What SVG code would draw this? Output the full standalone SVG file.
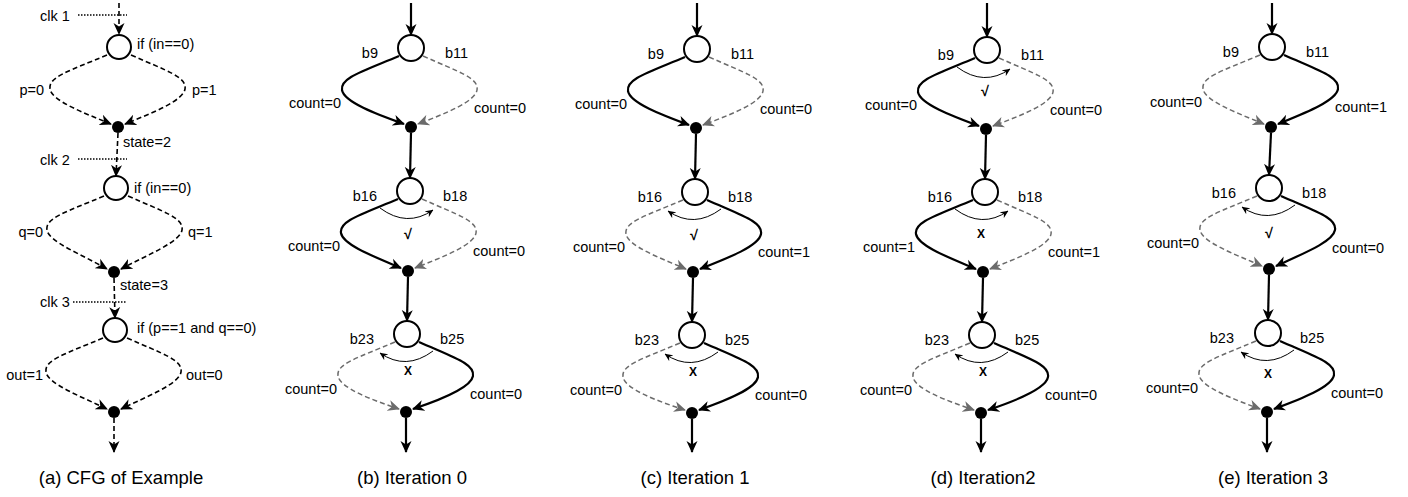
<svg xmlns="http://www.w3.org/2000/svg" width="1408" height="497" viewBox="0 0 1408 497">
<style>
.c{fill:#fff;stroke:#000;stroke-width:2}
.d{fill:#000}
text{font-family:"Liberation Sans",Arial,sans-serif;font-size:14.5px;fill:#000}
.cap{font-size:18.5px;text-anchor:middle}
.r{text-anchor:end}
.m{text-anchor:middle;font-weight:bold}
.e{fill:none;stroke:#000;stroke-width:2.2;marker-end:url(#ab)}
.g{fill:none;stroke:#6b6b6b;stroke-width:1.5;stroke-dasharray:5 3;marker-end:url(#ag)}
.a{fill:none;stroke:#000;stroke-width:1.6;stroke-dasharray:5 3;marker-end:url(#ab)}
.s{fill:none;stroke:#000;stroke-width:1;marker-end:url(#as)}
.k{fill:none;stroke:#000;stroke-width:1.3;stroke-dasharray:1.5 1.5}
</style>
<defs>
<marker id="ab" viewBox="0 0 12 12" refX="11" refY="6" markerWidth="12" markerHeight="12" markerUnits="userSpaceOnUse" orient="auto"><path d="M0,0.5 L12,6 L0,11.5 L3.5,6 Z" fill="#000"/></marker>
<marker id="ag" viewBox="0 0 12 12" refX="11" refY="6" markerWidth="12" markerHeight="12" markerUnits="userSpaceOnUse" orient="auto"><path d="M0,0.5 L12,6 L0,11.5 L3.5,6 Z" fill="#6b6b6b"/></marker>
<marker id="as" viewBox="0 0 8 8" refX="7.5" refY="4" markerWidth="8" markerHeight="8" markerUnits="userSpaceOnUse" orient="auto"><path d="M0,0.5 L8,4 L0,7.5 L2.5,4 Z" fill="#000"/></marker>
</defs>

<g id="connectors">
<!-- panel a -->
<path class="k" d="M78 15 H127 M78 159 H127 M73 302 H127"/>
<path class="a" d="M119 3 L119 34"/>
<path class="a" d="M118 133 L116 176"/>
<path class="a" d="M114 278 L115 318"/>
<path class="a" d="M114 418 L114 452"/>
<path class="a" d="M107 55 C69 71 48 77 50 89 C52 101 84 113 111 124"/>
<path class="a" d="M131 55 C167 71 187 77 185 89 C183 101 152 113 125 124"/>
<path class="a" d="M104 196 C66 212 45 218 47 230 C49 242 81 254 107 269"/>
<path class="a" d="M128 196 C164 212 184 218 182 230 C180 242 149 254 121 269"/>
<path class="a" d="M103 338 C65 354 44 360 46 372 C48 384 80 396 107 409"/>
<path class="a" d="M127 338 C163 354 183 360 181 372 C179 384 148 396 121 409"/>
<!-- panel b -->
<path class="e" d="M411 3 L411 35"/>
<path class="e" d="M411 133 L410 178"/>
<path class="e" d="M408 277 L407 321"/>
<path class="e" d="M406 418 L406 452"/>
<path class="e" d="M399 56 C361 72 340 78 342 90 C344 102 376 114 404 124"/>
<path class="g" d="M423 56 C459 72 479 78 477 90 C475 102 444 114 418 124"/>
<path class="e" d="M398 199 C360 215 339 221 341 233 C343 245 375 257 401 268"/>
<path class="g" d="M422 199 C458 215 478 221 476 233 C474 245 443 257 415 268"/>
<path class="g" d="M395 342 C357 358 336 364 338 376 C340 388 372 400 399 409"/>
<path class="e" d="M419 342 C455 358 475 364 473 376 C471 388 440 400 413 409"/>
<path class="s" d="M380 208 Q407 228 433 210"/>
<path class="s" d="M433 351 Q406 371 380 353"/>
<!-- panel c -->
<path class="e" d="M697 3 L697 36"/>
<path class="e" d="M696 134 L695 179"/>
<path class="e" d="M693 278 L692 322"/>
<path class="e" d="M692 419 L692 452"/>
<path class="e" d="M685 57 C647 73 626 79 628 91 C630 103 662 115 689 125"/>
<path class="g" d="M709 57 C745 73 765 79 763 91 C761 103 730 115 703 125"/>
<path class="g" d="M683 200 C645 216 624 222 626 234 C628 246 660 258 686 269"/>
<path class="e" d="M707 200 C743 216 763 222 761 234 C759 246 728 258 700 269"/>
<path class="g" d="M680 343 C642 359 621 365 623 377 C625 389 657 401 685 410"/>
<path class="e" d="M704 343 C740 359 760 365 758 377 C756 389 725 401 699 410"/>
<path class="s" d="M721 209 Q694 229 668 211"/>
<path class="s" d="M718 352 Q691 372 665 354"/>
<!-- panel d -->
<path class="e" d="M987 3 L987 37"/>
<path class="e" d="M986 135 L985 179"/>
<path class="e" d="M983 278 L982 322"/>
<path class="e" d="M981 419 L981 452"/>
<path class="e" d="M975 58 C937 74 916 80 918 92 C920 104 952 116 979 126"/>
<path class="g" d="M999 58 C1035 74 1055 80 1053 92 C1051 104 1020 116 993 126"/>
<path class="e" d="M973 200 C935 216 914 222 916 234 C918 246 950 258 976 269"/>
<path class="g" d="M997 200 C1033 216 1053 222 1051 234 C1049 246 1018 258 990 269"/>
<path class="g" d="M970 343 C932 359 911 365 913 377 C915 389 947 401 974 410"/>
<path class="e" d="M994 343 C1030 359 1050 365 1048 377 C1046 389 1015 401 988 410"/>
<path class="s" d="M957 67 Q984 87 1010 69"/>
<path class="s" d="M955 209 Q982 229 1008 211"/>
<path class="s" d="M1008 352 Q981 372 955 354"/>
<!-- panel e -->
<path class="e" d="M1272 3 L1272 34"/>
<path class="e" d="M1271 133 L1269 175"/>
<path class="e" d="M1269 275 L1268 320"/>
<path class="e" d="M1267 418 L1267 452"/>
<path class="g" d="M1260 55 C1222 71 1201 77 1203 89 C1205 101 1237 113 1264 124"/>
<path class="e" d="M1284 55 C1320 71 1340 77 1338 89 C1336 101 1305 113 1278 124"/>
<path class="g" d="M1257 196 C1219 212 1198 218 1200 230 C1202 242 1234 254 1262 266"/>
<path class="e" d="M1281 196 C1317 212 1337 218 1335 230 C1333 242 1302 254 1276 266"/>
<path class="g" d="M1256 341 C1218 357 1197 363 1199 375 C1201 387 1233 399 1260 409"/>
<path class="e" d="M1280 341 C1316 357 1336 363 1334 375 C1332 387 1301 399 1274 409"/>
<path class="s" d="M1295 205 Q1268 225 1242 207"/>
<path class="s" d="M1294 350 Q1267 370 1241 352"/>
</g>

<g id="edge-labels">
<text x="40" y="21">clk 1</text>
<text x="40" y="165">clk 2</text>
<text x="40" y="307">clk 3</text>
<text class="r" x="44" y="95">p=0</text>
<text x="192" y="95">p=1</text>
<text class="r" x="43" y="237">q=0</text>
<text x="188" y="237">q=1</text>
<text class="r" x="43" y="380">out=1</text>
<text x="186" y="380">out=0</text>
<text x="123" y="147">state=2</text>
<text x="120" y="290">state=3</text>

<text class="r" x="341" y="108">count=0</text><text x="474" y="113">count=0</text>
<text class="r" x="340" y="251">count=0</text><text x="473" y="256">count=0</text>
<text class="r" x="337" y="394">count=0</text><text x="470" y="399">count=0</text>
<text class="m" x="408" y="239" font-size="15">√</text>
<text class="m" x="408" y="375" style="font-size:12px">X</text>

<text class="r" x="627" y="109">count=0</text><text x="760" y="114">count=0</text>
<text class="r" x="625" y="252">count=0</text><text x="758" y="257">count=1</text>
<text class="r" x="622" y="395">count=0</text><text x="755" y="400">count=0</text>
<text class="m" x="694" y="240">√</text>
<text class="m" x="693" y="376" style="font-size:12px">X</text>

<text class="r" x="917" y="110">count=0</text><text x="1050" y="115">count=0</text>
<text class="r" x="915" y="252">count=1</text><text x="1048" y="257">count=1</text>
<text class="r" x="912" y="395">count=0</text><text x="1045" y="400">count=0</text>
<text class="m" x="985" y="96">√</text>
<text class="m" x="981" y="238" style="font-size:12px">X</text>
<text class="m" x="983" y="376" style="font-size:12px">X</text>

<text class="r" x="1202" y="107">count=0</text><text x="1335" y="112">count=1</text>
<text class="r" x="1199" y="248">count=0</text><text x="1332" y="253">count=0</text>
<text class="r" x="1198" y="393">count=0</text><text x="1331" y="398">count=0</text>
<text class="m" x="1269" y="238">√</text>
<text class="m" x="1268" y="378" style="font-size:12px">X</text>
</g>

<g id="panel-a">
<g id="a-if1"><circle class="c" cx="119" cy="47" r="12"/><text x="137" y="49">if (in==0)</text></g>
<g id="a-j1"><circle class="d" cx="118" cy="127" r="6"/></g>
<g id="a-if2"><circle class="c" cx="116" cy="188" r="12"/><text x="134" y="193">if (in==0)</text></g>
<g id="a-j2"><circle class="d" cx="114" cy="272" r="6"/></g>
<g id="a-if3"><circle class="c" cx="115" cy="330" r="12"/><text x="137" y="333">if (p==1 and q==0)</text></g>
<g id="a-j3"><circle class="d" cx="114" cy="412" r="6"/></g>
<text class="cap" x="121" y="484">(a) CFG of Example</text>
</g>

<g id="panel-b">
<g id="b-n1"><circle class="c" cx="411" cy="48" r="13"/><text class="r" x="378" y="58">b9</text><text x="445" y="58">b11</text></g>
<g id="b-j1"><circle class="d" cx="411" cy="127" r="6"/></g>
<g id="b-n2"><circle class="c" cx="410" cy="191" r="13"/><text class="r" x="377" y="201">b16</text><text x="443" y="201">b18</text></g>
<g id="b-j2"><circle class="d" cx="408" cy="271" r="6"/></g>
<g id="b-n3"><circle class="c" cx="407" cy="334" r="13"/><text class="r" x="374" y="344">b23</text><text x="440" y="344">b25</text></g>
<g id="b-j3"><circle class="d" cx="406" cy="412" r="6"/></g>
<text class="cap" x="412" y="484">(b) Iteration 0</text>
</g>

<g id="panel-c">
<g id="c-n1"><circle class="c" cx="697" cy="49" r="13"/><text class="r" x="664" y="59">b9</text><text x="731" y="59">b11</text></g>
<g id="c-j1"><circle class="d" cx="696" cy="128" r="6"/></g>
<g id="c-n2"><circle class="c" cx="695" cy="192" r="13"/><text class="r" x="662" y="202">b16</text><text x="728" y="202">b18</text></g>
<g id="c-j2"><circle class="d" cx="693" cy="272" r="6"/></g>
<g id="c-n3"><circle class="c" cx="692" cy="335" r="13"/><text class="r" x="659" y="345">b23</text><text x="725" y="345">b25</text></g>
<g id="c-j3"><circle class="d" cx="692" cy="413" r="6"/></g>
<text class="cap" x="695" y="484">(c) Iteration 1</text>
</g>

<g id="panel-d">
<g id="d-n1"><circle class="c" cx="987" cy="50" r="13"/><text class="r" x="954" y="60">b9</text><text x="1021" y="60">b11</text></g>
<g id="d-j1"><circle class="d" cx="986" cy="129" r="6"/></g>
<g id="d-n2"><circle class="c" cx="985" cy="192" r="13"/><text class="r" x="952" y="202">b16</text><text x="1018" y="202">b18</text></g>
<g id="d-j2"><circle class="d" cx="983" cy="272" r="6"/></g>
<g id="d-n3"><circle class="c" cx="982" cy="335" r="13"/><text class="r" x="949" y="345">b23</text><text x="1015" y="345">b25</text></g>
<g id="d-j3"><circle class="d" cx="981" cy="413" r="6"/></g>
<text class="cap" x="983" y="484">(d) Iteration2</text>
</g>

<g id="panel-e">
<g id="e-n1"><circle class="c" cx="1272" cy="47" r="13"/><text class="r" x="1239" y="57">b9</text><text x="1306" y="57">b11</text></g>
<g id="e-j1"><circle class="d" cx="1271" cy="127" r="6"/></g>
<g id="e-n2"><circle class="c" cx="1269" cy="188" r="13"/><text class="r" x="1236" y="198">b16</text><text x="1302" y="198">b18</text></g>
<g id="e-j2"><circle class="d" cx="1269" cy="269" r="6"/></g>
<g id="e-n3"><circle class="c" cx="1268" cy="333" r="13"/><text class="r" x="1234" y="343">b23</text><text x="1300" y="343">b25</text></g>
<g id="e-j3"><circle class="d" cx="1267" cy="412" r="6"/></g>
<text class="cap" x="1273" y="484">(e) Iteration 3</text>
</g>
</svg>
